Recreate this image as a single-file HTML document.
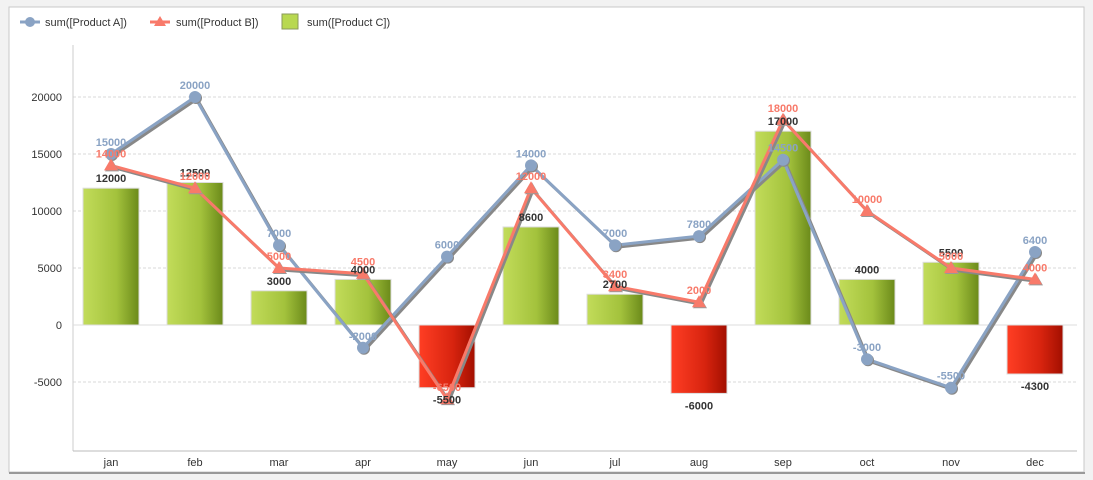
<!DOCTYPE html><html><head><meta charset="utf-8"><style>body{margin:0;background:#fff}svg{display:block;font-family:"Liberation Sans",sans-serif}</style></head><body>
<svg width="1093" height="480" viewBox="0 0 1093 480">
<defs>
<linearGradient id="g" x1="0" x2="1"><stop offset="0" stop-color="#c2dc5a"/><stop offset=".6" stop-color="#a3c23c"/><stop offset="1" stop-color="#6b8a1a"/></linearGradient>
<linearGradient id="r" x1="0" x2="1"><stop offset="0" stop-color="#ff3e24"/><stop offset=".6" stop-color="#d8240f"/><stop offset="1" stop-color="#a20f00"/></linearGradient>
</defs>
<rect x="0" y="0" width="1093" height="480" fill="#f2f2f2"/>
<rect x="9" y="7" width="1075" height="465" fill="#fff" stroke="#c8c8c8"/>
<line x1="9" y1="473" x2="1085" y2="473" stroke="#999" stroke-width="2"/>
<g font-size="11" fill="#333">
<line x1="20" y1="22" x2="40" y2="22" stroke="#8aa3c4" stroke-width="3"/><circle cx="30" cy="22" r="5" fill="#8aa3c4"/><text x="45" y="26">sum([Product A])</text>
<line x1="150" y1="22" x2="170" y2="22" stroke="#f87a6a" stroke-width="3"/><path d="M160 16 L166 26 L154 26Z" fill="#f87a6a"/><text x="176" y="26">sum([Product B])</text>
<rect x="282" y="14" width="16" height="15" fill="#b8d850" stroke="#8a9a5a"/><text x="307" y="26">sum([Product C])</text>
</g>
<g stroke="#d8d8d8" stroke-dasharray="3,2"><line x1="73" x2="1077" y1="97" y2="97"/><line x1="73" x2="1077" y1="154" y2="154"/><line x1="73" x2="1077" y1="211" y2="211"/><line x1="73" x2="1077" y1="268" y2="268"/><line x1="73" x2="1077" y1="382" y2="382"/></g>
<line x1="73" y1="45" x2="73" y2="451" stroke="#ccc"/>
<line x1="73" y1="451" x2="1077" y2="451" stroke="#bbb"/>
<line x1="73" y1="325" x2="1077" y2="325" stroke="#ddd"/>
<g font-size="11" fill="#333" text-anchor="end"><text x="62" y="101">20000</text><text x="62" y="158">15000</text><text x="62" y="215">10000</text><text x="62" y="272">5000</text><text x="62" y="329">0</text><text x="62" y="386">-5000</text></g>
<g id="c"></g>
</svg>
<script>
const A=[15000,20000,7000,-2000,6000,14000,7000,7800,14500,-3000,-5500,6400],B=[14000,12000,5000,4500,-6500,12000,3400,2000,18000,10000,5000,4000],C=[12000,12500,3000,4000,-5500,8600,2700,-6000,17000,4000,5500,-4300];
const M=["jan","feb","mar","apr","may","jun","jul","aug","sep","oct","nov","dec"];
const y=v=>325-v*0.0114,x=i=>111+84*i;let s="";
C.forEach((v,i)=>{const t=Math.min(y(v),325),h=Math.abs(y(v)-325);s+=`<rect x="${x(i)-28}" y="${t}" width="56" height="${h}" fill="url(#${v<0?'r':'g'})" stroke="#ddd" stroke-width="1"/>`;});
const pl=(a,o)=>a.map((v,i)=>`${x(i)+o},${y(v)+o}`).join(" ");
s+=`<polyline points="${pl(A,2)}" fill="none" stroke="#888" stroke-width="3"/><polyline points="${pl(A,0)}" fill="none" stroke="#8aa3c4" stroke-width="3"/>`;
s+=`<polyline points="${pl(B,2)}" fill="none" stroke="#888" stroke-width="3"/><polyline points="${pl(B,0)}" fill="none" stroke="#f87a6a" stroke-width="3"/>`;
A.forEach((v,i)=>{s+=`<circle cx="${x(i)+1}" cy="${y(v)+1}" r="6" fill="#888"/><circle cx="${x(i)}" cy="${y(v)}" r="6" fill="#8aa3c4"/>`});
B.forEach((v,i)=>{const X=x(i),Y=y(v);s+=`<path d="M${X+1} ${Y-6} L${X+8} ${Y+6} L${X-6} ${Y+6}Z" fill="#999"/><path d="M${X} ${Y-7} L${X+7} ${Y+5} L${X-7} ${Y+5}Z" fill="#f87a6a"/>`});
C.forEach((v,i)=>{const Y=v<0?y(v)+16:y(v)-6;s+=`<text x="${x(i)}" y="${Y}" font-size="11" font-weight="bold" fill="#333" text-anchor="middle">${v}</text>`});
A.forEach((v,i)=>{s+=`<text x="${x(i)}" y="${y(v)-8}" font-size="11" font-weight="bold" fill="#8aa3c4" text-anchor="middle">${v}</text>`});
B.forEach((v,i)=>{s+=`<text x="${x(i)}" y="${y(v)-8}" font-size="11" font-weight="bold" fill="#f87a6a" text-anchor="middle">${v}</text>`});
M.forEach((m,i)=>{s+=`<text x="${x(i)}" y="466" font-size="11" fill="#333" text-anchor="middle">${m}</text>`});
document.getElementById("c").innerHTML=s;
</script>
</body></html>
